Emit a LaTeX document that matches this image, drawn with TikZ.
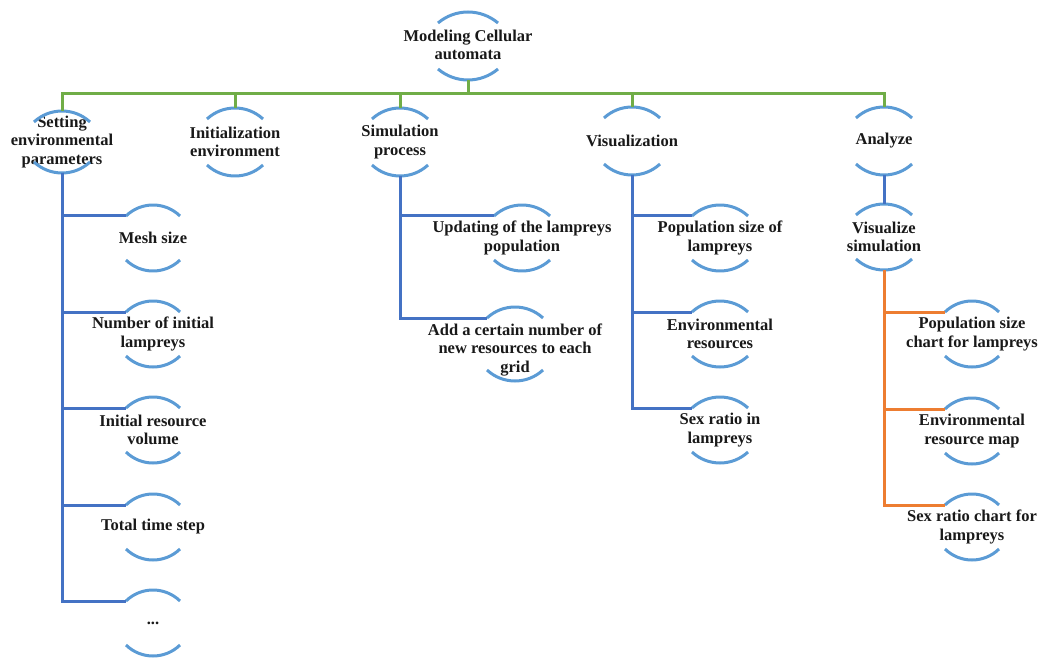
\documentclass[tikz,border=0pt]{standalone}
\usepackage{fontspec}
\setmainfont{Liberation Serif}
\usetikzlibrary{calc}
\definecolor{arcblue}{HTML}{5B9BD5}
\definecolor{lgreen}{HTML}{70AD47}
\definecolor{lblue}{HTML}{4472C4}
\definecolor{lorange}{HTML}{ED7D31}
\newcommand\cellarcs[4]{% name, dy, h, halfwidth
  \pgfmathsetmacro\cellR{(#4*#4+121)/22}%
  \pgfmathsetmacro\cellA{asin(#4/\cellR)}%
  \coordinate (#1-c) at ($(#1.center)+(0,#2)$);
  \coordinate (#1-tp) at ($(#1-c)+(0,-#3)$);
  \coordinate (#1-tl) at ($(#1-c)+(-#4,-#3+11)$);
  \coordinate (#1-bl) at ($(#1-c)+(-#4,#3-11)$);
  \coordinate (#1-bp) at ($(#1-c)+(0,#3)$);
  \draw[arcline] (#1-tl) arc[start angle=270-\cellA, end angle=270+\cellA, radius=\cellR];
  \draw[arcline] (#1-bl) arc[start angle=90+\cellA, end angle=90-\cellA, radius=\cellR];
}
\begin{document}
\begin{tikzpicture}[x=1pt,y=-1pt,
  cell/.style={font=\fontsize{16.5}{18.5}\selectfont\bfseries, align=center, inner sep=0pt, text=black!90},
  arcline/.style={draw=arcblue, line width=3pt},
  greenline/.style={draw=lgreen, line width=3pt},
  blueline/.style={draw=lblue, line width=3pt},
  orangeline/.style={draw=lorange, line width=3pt}]
\useasboundingbox (0,0) rectangle (1040,660);
% nodes
\node[cell] (root) at (468,45) {Modeling Cellular\\automata};
\node[cell] (set) at (62,142) {Setting\\environmental\\parameters};
\node[cell] (init) at (235,142) {Initialization\\environment};
\node[cell] (sim) at (400,142) {Simulation\\process};
\node[cell] (vis) at (632,141) {Visualization};
\node[cell] (ana) at (884,141) {Analyze};
\node[cell] (mesh) at (153,238) {Mesh size};
\node[cell] (num) at (153,334) {Number of initial\\lampreys};
\node[cell] (irv) at (153,430) {Initial resource\\volume};
\node[cell] (tts) at (153,527) {Total time step};
\node[cell] (dots) at (153,623) {...};
\node[cell] (upd) at (522,238) {Updating of the lampreys\\population};
\node[cell] (add) at (515,350) {Add a certain number of\\new resources to each\\grid};
\node[cell] (psl) at (720,238) {Population size of\\lampreys};
\node[cell] (env) at (720,334) {Environmental\\resources};
\node[cell] (sex) at (720,430) {Sex ratio in\\lampreys};
\node[cell] (vsim) at (884,237) {Visualize\\simulation};
\node[cell] (psc) at (972,334) {Population size\\chart for lampreys};
\node[cell] (erm) at (972,431) {Environmental\\resource map};
\node[cell] (src) at (972,527) {Sex ratio chart for\\lampreys};
% arcs
\cellarcs{root}{1}{34}{30}
\cellarcs{set}{0}{31}{28}
\cellarcs{init}{0}{34}{28}
\cellarcs{sim}{0}{34}{28}
\cellarcs{vis}{0}{34}{28}
\cellarcs{ana}{0}{34}{28}
\cellarcs{mesh}{0}{33}{27}
\cellarcs{num}{0}{33}{27}
\cellarcs{irv}{0}{33}{27}
\cellarcs{tts}{0}{33}{27}
\cellarcs{dots}{0}{33}{27}
\cellarcs{upd}{0}{33}{28}
\cellarcs{add}{-6}{37}{28}
\cellarcs{psl}{0}{33}{28}
\cellarcs{env}{0}{33}{28}
\cellarcs{sex}{0}{33}{28}
\cellarcs{vsim}{0}{33}{28}
\cellarcs{psc}{0}{33}{27}
\cellarcs{erm}{0}{33}{27}
\cellarcs{src}{0}{33}{27}
% connectors
\coordinate (bus) at (468,94);
\draw[greenline] (root-bp) -- (bus);
\draw[greenline] (set-tp) |- (bus);
\draw[greenline] (init-tp) |- (bus);
\draw[greenline] (sim-tp) |- (bus);
\draw[greenline] (vis-tp) |- (bus);
\draw[greenline] (ana-tp) |- (bus);
\draw[blueline] (set-bp) |- (mesh-tl);
\draw[blueline] (set-bp) |- (num-tl);
\draw[blueline] (set-bp) |- (irv-tl);
\draw[blueline] (set-bp) |- (tts-tl);
\draw[blueline] (set-bp) |- (dots-tl);
\draw[blueline] (sim-bp) |- (upd-tl);
\draw[blueline] (sim-bp) |- (add-tl);
\draw[blueline] (vis-bp) |- (psl-tl);
\draw[blueline] (vis-bp) |- (env-tl);
\draw[blueline] (vis-bp) |- (sex-tl);
\draw[blueline] (ana-bp) -- (vsim-tp);
\draw[orangeline] (vsim-bp) |- (psc-tl);
\draw[orangeline] (vsim-bp) |- (erm-tl);
\draw[orangeline] (vsim-bp) |- (src-tl);
\end{tikzpicture}
\end{document}
